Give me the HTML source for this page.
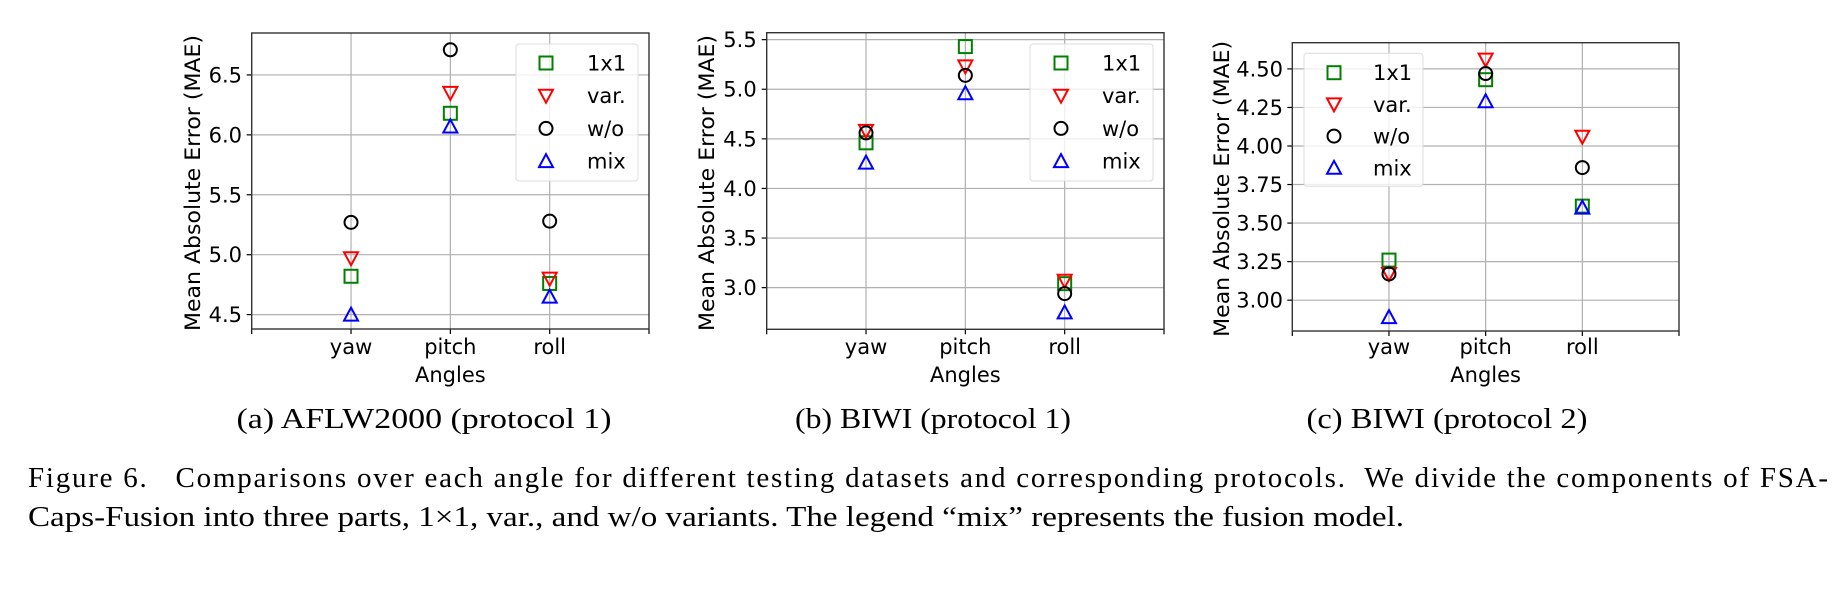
<!DOCTYPE html>
<html><head><meta charset="utf-8"><style>
html,body{margin:0;padding:0;background:#fff;}
svg{display:block;}
</style></head><body>
<svg id="fig" width="1841" height="593" viewBox="0 0 1841 593" xmlns="http://www.w3.org/2000/svg"></svg>
<script>
const categories = ["yaw","pitch","roll"];
const seriesNames = ["1x1","var.","w/o","mix"];
// panel a: AFLW2000 (protocol 1)
const a1x1 = [4.82, 6.18, 4.76];
const aVar = [4.97, 6.35, 4.80];
const aWo  = [5.27, 6.71, 5.28];
const aMix = [4.50, 6.07, 4.65];
const aTicks = [4.5, 5.0, 5.5, 6.0, 6.5];
const aTickLabels = ["4.5","5.0","5.5","6.0","6.5"];
// panel b: BIWI (protocol 1)
const b1x1 = [4.46, 5.43, 3.04];
const bVar = [4.58, 5.23, 3.07];
const bWo  = [4.56, 5.14, 2.94];
const bMix = [4.26, 4.96, 2.75];
const bTicks = [3.0, 3.5, 4.0, 4.5, 5.0, 5.5];
const bTickLabels = ["3.0","3.5","4.0","4.5","5.0","5.5"];
// panel c: BIWI (protocol 2)
const c1x1 = [3.26, 4.43, 3.61];
const cVar = [3.17, 4.56, 4.06];
const cWo  = [3.17, 4.47, 3.86];
const cMix = [2.89, 4.29, 3.60];
const cTicks = [3.0, 3.25, 3.5, 3.75, 4.0, 4.25, 4.5];
const cTickLabels = ["3.00","3.25","3.50","3.75","4.00","4.25","4.50"];

const NS = "http://www.w3.org/2000/svg";
const fig = document.getElementById("fig");
function mk(tag, attrs, parent, text){
  const e = document.createElementNS(NS, tag);
  for (const k in attrs) e.setAttribute(k, attrs[k]);
  if (text !== undefined) e.textContent = text;
  (parent || fig).appendChild(e);
  return e;
}
const SANS = "DejaVu Sans, Liberation Sans, sans-serif";
const SERIF = "Liberation Serif, serif";
const colors = ["#008000","#ff0000","#000000","#0000ff"];

function marker(g, kind, x, y, color){
  let el;
  if (kind === 0) el = mk("rect",{x:x-6.5,y:y-6.5,width:13,height:13,fill:"none",stroke:color,"stroke-width":2},g);
  else if (kind === 1) el = mk("polygon",{points:`${x-7},${y-6} ${x+7},${y-6} ${x},${y+7}`,fill:"none",stroke:color,"stroke-width":2},g);
  else if (kind === 2) el = mk("circle",{cx:x,cy:y,r:6.5,fill:"none",stroke:color,"stroke-width":2},g);
  else el = mk("polygon",{points:`${x-7},${y+6} ${x+7},${y+6} ${x},${y-7}`,fill:"none",stroke:color,"stroke-width":2},g);
  return el;
}

function panel(p){
  const g = mk("g",{});
  
  
  const {L,R,T,B,ymin,ymax} = p;
  const xs = v => L + (v/4)*(R-L);
  const ys = v => B - (v-ymin)/(ymax-ymin)*(B-T);
  // grid
  p.ticks.forEach((t,i)=>{
    const y = ys(t);
    const gl = mk("line",{x1:L,x2:R,y1:y,y2:y,stroke:"#b0b0b0","stroke-width":1.2},g);
    
    
    mk("line",{x1:L-5,x2:L,y1:y,y2:y,stroke:"#000","stroke-width":1.2},g);
    const tl = mk("text",{x:p.tickRight,y:y+7.5,"text-anchor":"end","font-family":SANS,"font-size":21,fill:"#000"},g,p.tickLabels[i]);
    
    
  });
  categories.forEach((c,i)=>{
    const x = xs(i+1);
    const gl = mk("line",{x1:x,x2:x,y1:T,y2:B,stroke:"#b0b0b0","stroke-width":1.2},g);
    
    
    const tl = mk("text",{x:x,y:354,"text-anchor":"middle","font-family":SANS,"font-size":21,fill:"#000"},g,c);
    
    
  });
  for (let k=0;k<=4;k++) mk("line",{x1:xs(k),x2:xs(k),y1:B,y2:B+5,stroke:"#000","stroke-width":1.2},g);
  const fr = mk("rect",{x:L,y:T,width:R-L,height:B-T,fill:"none",stroke:"#333","stroke-width":1.4},g);
  
  
  // series
  p.series.forEach((vals,s)=>{
    vals.forEach((v,i)=>{
      const m = marker(g, s, xs(i+1), ys(v), colors[s]);
      
      
    });
  });
  // labels
  const yl = mk("text",{transform:`translate(${p.ylx},${(T+B)/2+2}) rotate(-90)`,"text-anchor":"middle","font-family":SANS,"font-size":21,textLength:296,lengthAdjust:"spacingAndGlyphs",fill:"#000"},g,"Mean Absolute Error (MAE)");
  
  
  const xl = mk("text",{x:(L+R)/2,y:382,"text-anchor":"middle","font-family":SANS,"font-size":21,fill:"#000"},g,"Angles");
  
  
  // legend
  const lg = mk("g",{},g);
  
  
  mk("rect",{x:p.lg.x,y:p.lg.y,width:p.lg.w,height:p.lg.h,rx:3,fill:"#fff","fill-opacity":0.8,stroke:"#dcdcdc","stroke-width":1},lg);
  seriesNames.forEach((n,s)=>{
    const y = p.lg.y0 + s*p.lg.dy;
    const e = mk("g",{},lg);
    
    
    marker(e, s, p.lg.mx, y, colors[s]);
    mk("text",{x:p.lg.tx,y:y+7.5,"font-family":SANS,"font-size":21,fill:"#000"},e,n);
  });
  // caption
  const cap = mk("text",{x:p.capX,y:428,"text-anchor":"middle","font-family":SERIF,"font-size":29,textLength:p.capW,lengthAdjust:"spacingAndGlyphs",fill:"#000"},g,p.caption);
  
  
}

panel({name:"panel-a-aflw2000",L:251.7,R:649,T:33,B:329,ymin:4.38,ymax:6.85,ticks:aTicks,tickLabels:aTickLabels,tickRight:242,ylx:200,
  series:[a1x1,aVar,aWo,aMix],lg:{x:516,y:44,w:122,h:137,y0:63,dy:32.7,mx:546,tx:587},caption:"(a) AFLW2000 (protocol 1)",capX:424,capW:375});
panel({name:"panel-b-biwi-p1",L:766.7,R:1164,T:32.7,B:329.3,ymin:2.58,ymax:5.57,ticks:bTicks,tickLabels:bTickLabels,tickRight:756.7,ylx:714,
  series:[b1x1,bVar,bWo,bMix],lg:{x:1030,y:44,w:123,h:137,y0:63,dy:32.7,mx:1061,tx:1102},caption:"(b) BIWI (protocol 1)",capX:933,capW:276});
panel({name:"panel-c-biwi-p2",L:1292.3,R:1679,T:42.7,B:331,ymin:2.80,ymax:4.67,ticks:cTicks,tickLabels:cTickLabels,tickRight:1283,ylx:1229,
  series:[c1x1,cVar,cWo,cMix],lg:{x:1304,y:53.3,w:119,h:133,y0:72.7,dy:31.7,mx:1334,tx:1373},caption:"(c) BIWI (protocol 2)",capX:1447,capW:281});

const l1 = mk("text",{x:28,y:487,"font-family":SERIF,"font-size":29,textLength:1800,lengthAdjust:"spacing",fill:"#000"},fig,"Figure 6.\u00a0\u00a0 Comparisons over each angle for different testing datasets and corresponding protocols.\u00a0 We divide the components of FSA-");


const l2 = mk("text",{x:28,y:526,"font-family":SERIF,"font-size":29,textLength:1376,lengthAdjust:"spacingAndGlyphs",fill:"#000"},fig,"Caps-Fusion into three parts, 1\u00d71, var., and w/o variants. The legend \u201cmix\u201d represents the fusion model.");


</script>
</body></html>
